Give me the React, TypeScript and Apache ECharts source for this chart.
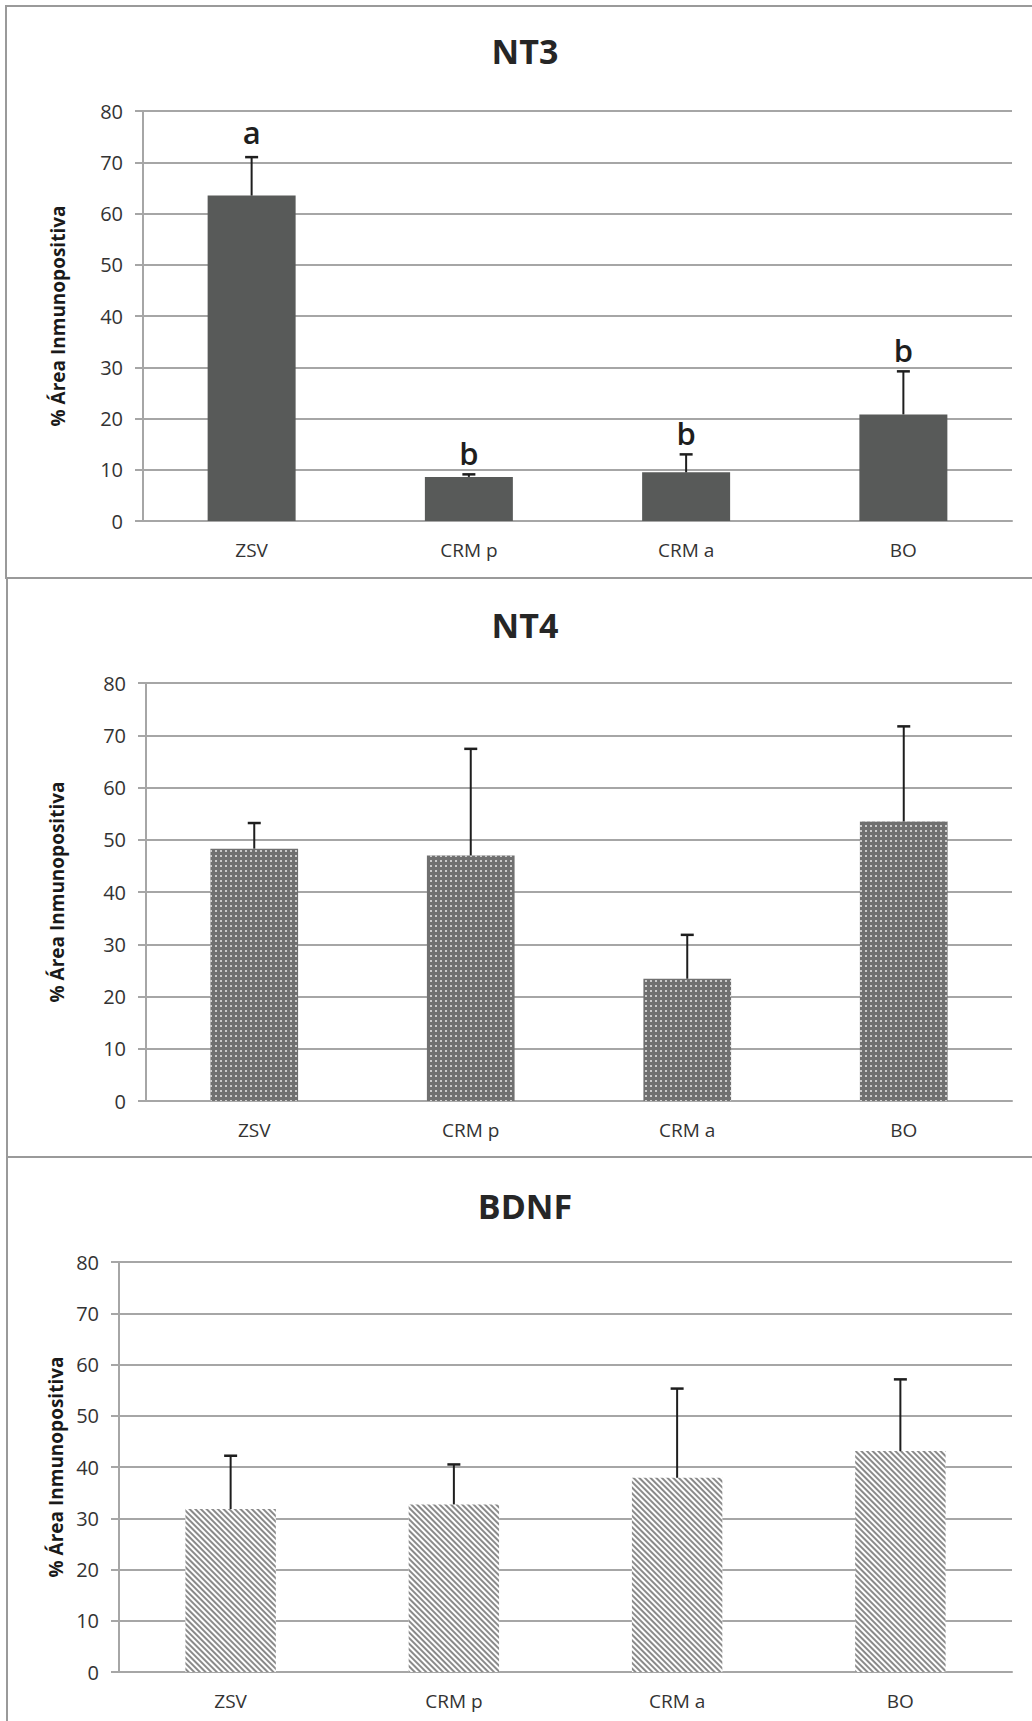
import React, { useEffect, useRef } from "react";
import * as echarts from "echarts";

const categories = ["ZSV", "CRM p", "CRM a", "BO"];
const tickLabels = ["0", "10", "20", "30", "40", "50", "60", "70", "80"];
const yTitle = "% Área Inmunopositiva";

const nt3Title = "NT3";
const nt3Values = [63.5, 8.6, 9.5, 20.8];
const nt3ErrTop = [71.0, 9.1, 13.0, 29.2];
const nt3Letters = ["a", "b", "b", "b"];

const nt4Title = "NT4";
const nt4Values = [48.3, 47.0, 23.4, 53.5];
const nt4ErrTop = [53.2, 67.4, 31.8, 71.7];

const bdnfTitle = "BDNF";
const bdnfValues = [31.8, 32.7, 37.9, 43.1];
const bdnfErrTop = [42.2, 40.5, 55.3, 57.1];

const FONT = "'Open Sans', 'Liberation Sans', sans-serif";
const GRID_COLOR = "#a6a6a6";

export default function App() {
  const ref = useRef<HTMLDivElement>(null);

  useEffect(() => {
    if (!ref.current) return;
    const chart = echarts.init(ref.current, null, { renderer: "svg" });

    const panels = [
      { title: nt3Title, values: nt3Values, err: nt3ErrTop, letters: nt3Letters, grid: { left: 143, top: 111, width: 869, height: 410 }, titleTop: 34, nameGap: 76, style: "solid" },
      { title: nt4Title, values: nt4Values, err: nt4ErrTop, letters: null, grid: { left: 146, top: 683, width: 866, height: 418 }, titleTop: 608, nameGap: 80, style: "dots" },
      { title: bdnfTitle, values: bdnfValues, err: bdnfErrTop, letters: null, grid: { left: 119, top: 1262, width: 893, height: 410 }, titleTop: 1189, nameGap: 53, style: "hatch" },
    ];

    const itemStyleFor = (s: string) => {
      if (s === "solid") return { color: "#585a59" };
      if (s === "dots")
        return {
          color: "#707070",
          decal: { symbol: "rect", symbolSize: 0.85, color: "#ffffff", dashArrayX: [2, 3], dashArrayY: [2, 3] },
        };
      return {
        color: "#ffffff",
        decal: { symbol: "rect", symbolSize: 1, color: "#8a8a8a", dashArrayX: [1, 0], dashArrayY: [2, 2], rotation: Math.PI / 4 },
      };
    };

    const option: any = {
      animation: false,
      backgroundColor: "#ffffff",
      title: panels.map((p) => ({
        text: p.title,
        left: 525,
        top: p.titleTop,
        textAlign: "center",
        padding: 0,
        textStyle: { fontFamily: FONT, fontWeight: "bold", fontSize: 34, color: "#262626" },
      })),
      grid: panels.map((p) => ({ ...p.grid, containLabel: false })),
      xAxis: panels.map((p, k) => ({
        type: "category",
        gridIndex: k,
        data: categories,
        axisLine: { show: true, lineStyle: { color: GRID_COLOR, width: 2 } },
        axisTick: { show: false },
        axisLabel: { fontFamily: FONT, fontSize: 19, color: "#333333", margin: 19 },
      })),
      yAxis: panels.map((p, k) => ({
        type: "value",
        gridIndex: k,
        min: 0,
        max: 80,
        interval: 10,
        axisLine: { show: true, lineStyle: { color: GRID_COLOR, width: 2 } },
        axisTick: { show: true, length: 8, lineStyle: { color: GRID_COLOR, width: 2 } },
        splitLine: { show: true, lineStyle: { color: GRID_COLOR, width: 2 } },
        axisLabel: {
          fontFamily: FONT,
          fontSize: 20,
          color: "#333333",
          margin: 20,
          formatter: (v: number) => tickLabels[Math.round(v / 10)] ?? String(v),
        },
        name: yTitle,
        nameLocation: "middle",
        nameRotate: 90,
        nameGap: p.nameGap,
        nameTextStyle: { fontFamily: FONT, fontWeight: "bold", fontSize: 19, color: "#1a1a1a" },
      })),
      series: [] as any[],
      graphic: [
        { type: "rect", shape: { x: 6, y: 6, width: 1100, height: 572 }, style: { fill: "none", stroke: "#9a9a9a", lineWidth: 2 }, z: 0 },
        { type: "rect", shape: { x: 7, y: 578, width: 1100, height: 579 }, style: { fill: "none", stroke: "#9a9a9a", lineWidth: 2 }, z: 0 },
        { type: "rect", shape: { x: 7, y: 1157, width: 1100, height: 600 }, style: { fill: "none", stroke: "#9a9a9a", lineWidth: 2 }, z: 0 },
      ],
    };

    panels.forEach((p, k) => {
      option.series.push({
        type: "bar",
        xAxisIndex: k,
        yAxisIndex: k,
        data: p.values,
        barWidth: "40.5%",
        itemStyle: itemStyleFor(p.style),
        z: 2,
      });
      const letters = p.letters;
      option.series.push({
        type: "custom",
        xAxisIndex: k,
        yAxisIndex: k,
        data: p.values.map((v, i) => [i, v, p.err[i]]),
        encode: { x: 0, y: 2 },
        z: 5,
        renderItem: (params: any, api: any) => {
          const i = api.value(0);
          const v = api.value(1);
          const t = api.value(2);
          const p0 = api.coord([i, v]);
          const p1 = api.coord([i, t]);
          const children: any[] = [
            { type: "line", shape: { x1: p0[0], y1: p0[1], x2: p1[0], y2: p1[1] }, style: { stroke: "#1e1e1e", lineWidth: 2 } },
            { type: "line", shape: { x1: p1[0] - 6.5, y1: p1[1], x2: p1[0] + 6.5, y2: p1[1] }, style: { stroke: "#1e1e1e", lineWidth: 2.5 } },
          ];
          if (letters) {
            const letter = letters[params.dataIndex];
            children.push({
              type: "text",
              x: p1[0],
              y: p1[1] - (letter === "a" ? 10 : 6),
              style: { text: letter, fill: "#1e1e1e", fontFamily: FONT, fontSize: 31, fontWeight: 600, align: "center", verticalAlign: "bottom" },
            });
          }
          return { type: "group", children };
        },
      });
    });

    chart.setOption(option);
    return () => chart.dispose();
  }, []);

  return (
    <div
      ref={ref}
      style={{ position: "absolute", left: 0, top: 0, width: 1032, height: 1721, background: "#fff" }}
    />
  );
}
